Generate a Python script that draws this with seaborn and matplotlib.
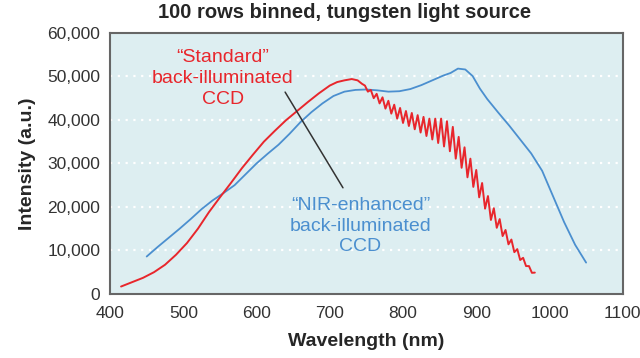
import pandas as pd
import matplotlib.pyplot as plt
import matplotlib.ticker as mticker
import seaborn as sns

# standard back-illuminated CCD (smooth part, then the fringing region)
std_wavelength = [415, 430, 445, 460, 475, 490, 505, 520, 535, 550, 565, 580, 595,
                  610, 625, 640, 655, 670, 685, 700, 710, 720, 730, 738, 744,
                  748, 752, 756, 760, 764, 768, 772, 776, 780, 784, 788, 792, 796,
                  800, 804, 808, 812, 816, 820, 824, 828, 832, 836, 840, 844, 848,
                  852, 856, 860, 864, 868, 872, 876, 880, 884, 888, 892, 896, 900,
                  904, 908, 912, 916, 920, 924, 928, 932, 936, 940, 944, 948, 952,
                  956, 960, 964, 968, 972, 976, 980]
std_intensity = [1700, 2700, 3700, 5000, 6700, 9000, 11700, 15000, 18800, 22200, 25500, 28900, 32000,
                 35000, 37500, 39900, 42000, 44100, 46100, 47900, 48700, 49100, 49400, 49100, 48300,
                 47900, 46500, 46900, 45000, 46000, 43800, 45200, 42600, 44400, 41450, 43500, 40300, 42750,
                 39300, 42050, 38600, 41600, 37850, 41100, 37100, 40700, 36300, 40300, 35500, 40300, 34700,
                 40300, 33900, 39700, 32800, 38400, 31100, 36100, 29000, 33700, 26800, 31100, 24600, 28500,
                 22200, 25500, 19600, 22500, 17000, 19700, 15200, 17200, 13300, 14700, 11400, 12500, 9600,
                 10300, 7800, 8300, 6400, 6400, 4850, 4900]

# NIR-enhanced back-illuminated CCD
nir_wavelength = [450, 465, 480, 495, 510, 525, 540, 555, 570, 585, 600, 615, 630, 645,
                  660, 675, 690, 705, 720, 735, 750, 765, 780, 795, 810, 825, 840, 855,
                  865, 875, 885, 895, 905, 915, 930, 945, 960, 975, 990, 1005, 1020,
                  1035, 1050]
nir_intensity = [8600, 10800, 12900, 15000, 17200, 19500, 21500, 23200, 25000, 27500, 30000, 32200, 34300, 36800,
                 39500, 41800, 43800, 45500, 46500, 46900, 47000, 46800, 46500, 46600, 47100, 48000, 49100, 50200,
                 50800, 51800, 51600, 50100, 47200, 44800, 41700, 38700, 35500, 32300, 28300, 22400, 16500,
                 11300, 7200]

x_ticks = [400, 500, 600, 700, 800, 900, 1000, 1100]
y_ticks = [0, 10000, 20000, 30000, 40000, 50000, 60000]

RED = '#e8262c'
BLUE = '#4b8fcf'

sns.set_style('white', {'axes.facecolor': '#ddeef1'})
plt.rcParams['font.family'] = ['Liberation Sans', 'DejaVu Sans']

std_df = pd.DataFrame({'wavelength': std_wavelength, 'intensity': std_intensity})
nir_df = pd.DataFrame({'wavelength': nir_wavelength, 'intensity': nir_intensity})

fig, ax = plt.subplots(figsize=(6.4, 3.58), dpi=100)
fig.subplots_adjust(left=0.172, right=0.973, bottom=0.179, top=0.908)

# dotted white grid lines, drawn below the curves
for yv in y_ticks[1:-1]:
    ax.axhline(yv, color='white', linestyle=(0, (1, 2.5)), linewidth=1.6, zorder=1)

sns.lineplot(data=nir_df, x='wavelength', y='intensity', ax=ax, color=BLUE,
             linewidth=1.3, sort=False, estimator=None, zorder=3)
sns.lineplot(data=std_df, x='wavelength', y='intensity', ax=ax, color=RED,
             linewidth=1.4, sort=False, estimator=None, zorder=4)

ax.set_xlim(400, 1100)
ax.set_ylim(0, 60000)
ax.set_xticks(x_ticks)
ax.set_yticks(y_ticks)
ax.yaxis.set_major_formatter(mticker.FuncFormatter(lambda v, p: f'{v:,.0f}'))
ax.tick_params(axis='both', length=0, labelsize=12.5, labelcolor='#333333')
ax.tick_params(axis='x', pad=9)
ax.tick_params(axis='y', pad=7)

for side in ['left', 'right', 'top', 'bottom']:
    ax.spines[side].set_color('#666666')
    ax.spines[side].set_linewidth(1.5)

ax.set_xlabel('Wavelength (nm)', fontsize=14, fontweight='bold', labelpad=8)
ax.set_ylabel('Intensity (a.u.)', fontsize=14, fontweight='bold', labelpad=8)
fig.text(0.539, 1 - 13 / 358, '100 rows binned, tungsten light source', fontsize=14.5,
         fontweight='bold', ha='center', va='center')

ax.text(554, 49600, '\u201cStandard\u201d\nback-illuminated\nCCD', color=RED,
        fontsize=14, ha='center', va='center', linespacing=1.3, zorder=5)
ax.text(742, 15600, '\u201cNIR-enhanced\u201d\nback-illuminated\nCCD', color=BLUE,
        fontsize=14, ha='center', va='center', linespacing=1.3, zorder=5)
ax.plot([639, 718], [46400, 24400], color='#333333', linewidth=1.1, zorder=5)

plt.savefig('out.png', dpi=100)
plt.close()
